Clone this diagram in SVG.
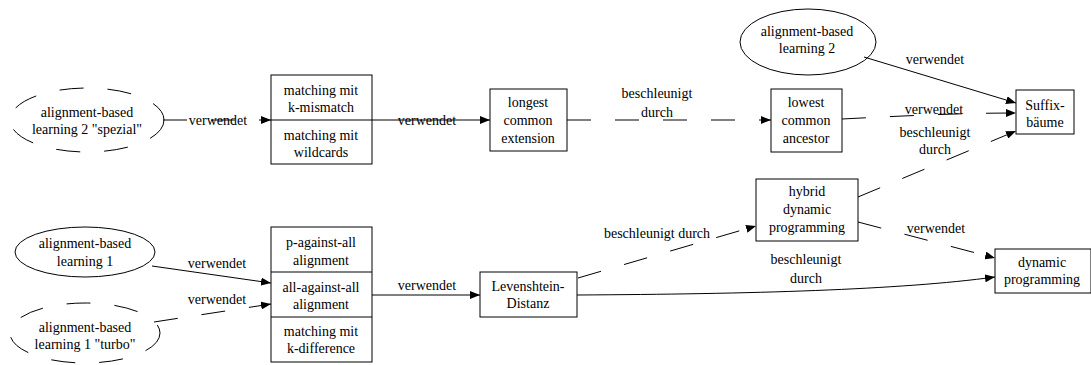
<svg xmlns="http://www.w3.org/2000/svg" width="1091" height="365" viewBox="0 0 1091 365">
  <style>
    text { font-family: "Liberation Serif", "Times New Roman", Times, serif; font-size: 14px; fill: #000; text-anchor: middle; }
    .box { fill: #fff; stroke: #000; stroke-width: 1; }
    .oval { fill: none; stroke: #000; stroke-width: 1; }
    .dash { stroke-dasharray: 24 24; }
    .edge { fill: none; stroke: #000; stroke-width: 1; marker-end: url(#arrow); }
  </style>
  <defs>
    <marker id="arrow" viewBox="0 0 10 8" refX="10" refY="4" markerWidth="10" markerHeight="8" markerUnits="userSpaceOnUse" orient="auto">
      <path d="M0,0 L10,4 L0,8 Z" fill="#000"/>
    </marker>
  </defs>
  <rect width="1091" height="365" fill="#fff"/>

  <!-- connectors -->
  <g id="edges">
    <path class="edge dash" d="M163,120 L271,120"/>
    <text x="218" y="125">verwendet</text>

    <path class="edge" d="M372,120 L490,120"/>
    <text x="427" y="125">verwendet</text>

    <path class="edge dash" d="M567,120 L771,120"/>
    <text x="657" y="98">beschleunigt</text>
    <text x="657" y="117">durch</text>

    <path class="edge" d="M864,57 L1016,103"/>
    <text x="935" y="64">verwendet</text>

    <path class="edge dash" d="M842,119 C900,116 960,113 1016,113"/>
    <text x="934" y="114">verwendet</text>

    <path class="edge dash" d="M858,197 L1016,131"/>
    <text x="935" y="137">beschleunigt</text>
    <text x="935" y="154">durch</text>

    <path class="edge dash" d="M858,222 L995,258"/>
    <text x="936" y="233">verwendet</text>

    <path class="edge" d="M577,295 C750,294 900,290 995,277"/>
    <text x="806" y="264">beschleunigt</text>
    <text x="806" y="283">durch</text>

    <path class="edge dash" d="M578,278 L756,226"/>
    <text x="657" y="238">beschleunigt durch</text>

    <path class="edge" d="M372,295 L480,295"/>
    <text x="427" y="290">verwendet</text>

    <path class="edge" d="M152,266 L271,283"/>
    <text x="217" y="268">verwendet</text>

    <path class="edge dash" d="M154,322 L271,304"/>
    <text x="217" y="304">verwendet</text>
  </g>

  <!-- nodes -->
  <g id="abl2-spezial">
    <ellipse class="oval dash" cx="87" cy="120" rx="77" ry="32"/>
    <text x="87" y="117">alignment-based</text>
    <text x="87" y="134">learning 2 "spezial"</text>
  </g>

  <g id="matching-record">
    <rect class="box" x="271" y="75" width="101" height="89"/>
    <line x1="271" y1="120" x2="372" y2="120" stroke="#000"/>
    <text x="321" y="95">matching mit</text>
    <text x="321" y="112">k-mismatch</text>
    <text x="321" y="140">matching mit</text>
    <text x="321" y="157">wildcards</text>
  </g>

  <g id="lce">
    <rect class="box" x="490" y="89" width="77" height="62"/>
    <text x="528" y="107">longest</text>
    <text x="528" y="125">common</text>
    <text x="528" y="143">extension</text>
  </g>

  <g id="lca">
    <rect class="box" x="771" y="89" width="71" height="63"/>
    <text x="806" y="107">lowest</text>
    <text x="806" y="125">common</text>
    <text x="806" y="143">ancestor</text>
  </g>

  <g id="abl2">
    <ellipse class="oval" cx="808" cy="42" rx="68" ry="33"/>
    <text x="807" y="36">alignment-based</text>
    <text x="807" y="53">learning 2</text>
  </g>

  <g id="suffix">
    <rect class="box" x="1016" y="90" width="58" height="44"/>
    <text x="1045" y="110">Suffix-</text>
    <text x="1045" y="127">bäume</text>
  </g>

  <g id="hybrid">
    <rect class="box" x="756" y="179" width="102" height="62"/>
    <text x="807" y="196">hybrid</text>
    <text x="807" y="214">dynamic</text>
    <text x="807" y="232">programming</text>
  </g>

  <g id="dp">
    <rect class="box" x="995" y="249" width="96" height="44"/>
    <text x="1042" y="267">dynamic</text>
    <text x="1042" y="284">programming</text>
  </g>

  <g id="levenshtein">
    <rect class="box" x="480" y="272" width="97" height="45"/>
    <text x="528" y="291">Levenshtein-</text>
    <text x="528" y="308">Distanz</text>
  </g>

  <g id="alignment-record">
    <rect class="box" x="271" y="227" width="101" height="135"/>
    <line x1="271" y1="272" x2="372" y2="272" stroke="#000"/>
    <line x1="271" y1="317" x2="372" y2="317" stroke="#000"/>
    <text x="321" y="247">p-against-all</text>
    <text x="321" y="265">alignment</text>
    <text x="321" y="292">all-against-all</text>
    <text x="321" y="309">alignment</text>
    <text x="321" y="336">matching mit</text>
    <text x="321" y="353">k-difference</text>
  </g>

  <g id="abl1">
    <ellipse class="oval" cx="85" cy="252" rx="70" ry="25"/>
    <text x="85" y="248">alignment-based</text>
    <text x="85" y="266">learning 1</text>
  </g>

  <g id="abl1-turbo">
    <ellipse class="oval dash" cx="85" cy="333" rx="75" ry="30"/>
    <text x="85" y="332">alignment-based</text>
    <text x="85" y="349">learning 1 "turbo"</text>
  </g>
</svg>
